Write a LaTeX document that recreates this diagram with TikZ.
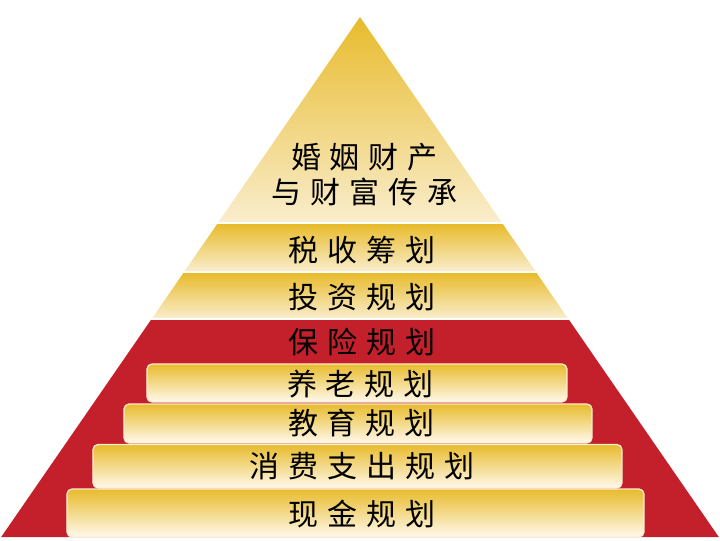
\documentclass[tikz,border=0pt]{standalone}
\usepackage{fontspec}
\usepackage{tikz}
\newfontfamily\cjkfont[LetterSpace=30]{Noto Sans CJK SC}
\definecolor{gold}{HTML}{E8BB2C}
\definecolor{cream}{HTML}{F9EDCC}
\definecolor{ivory}{HTML}{FFF9EC}
\definecolor{rim}{HTML}{FBEFD2}
\definecolor{crimson}{HTML}{C3202B}
\newcommand{\plan}[1]{#1\kern-0.3em}

\begin{document}
\begin{tikzpicture}[
  x=0.5pt,y=-0.5pt,
  band/.style={top color=gold,bottom color=cream,draw=none},
  bar/.style={top color=gold,bottom color=ivory,draw=rim,line width=0.6pt,
              rounded corners=2.5pt},
  lbl/.style={font=\cjkfont\fontsize{15}{17.5}\selectfont,text=black,
              inner sep=0pt,align=center}]
\useasboundingbox (0,0) rectangle (720,541);
\shade[band] (360,17) -- (501.5,222) -- (218.5,222) -- cycle;
\shade[band] (217.2,224) -- (502.8,224) -- (535.3,271) -- (184.7,271) -- cycle;
\shade[band] (183.4,273) -- (536.6,273) -- (567.7,318) -- (152.3,318) -- cycle;
\fill[crimson] (150.9,320) -- (569.1,320) -- (718.8,537) -- (1.2,537) -- cycle;
\shade[bar] (147,364) rectangle (567,402);
\shade[bar] (124,404) rectangle (592,443);
\shade[bar] (93,444.5) rectangle (622,488);
\shade[bar] (67,489) rectangle (644,537);
\node[lbl] (legacy) at (360,174.5) {\plan{婚姻财产}\\\plan{与财富传承}};
\node[lbl] (tax) at (358,250) {\plan{税收筹划}};
\node[lbl] (invest) at (358,297) {\plan{投资规划}};
\node[lbl] (insure) at (358,342) {\plan{保险规划}};
\node[lbl] (pension) at (356,384) {\plan{养老规划}};
\node[lbl] (edu) at (357,423) {\plan{教育规划}};
\node[lbl] (spend) at (357.5,466.5) {\plan{消费支出规划}};
\node[lbl] (cash) at (357.5,514) {\plan{现金规划}};
\end{tikzpicture}
\end{document}
